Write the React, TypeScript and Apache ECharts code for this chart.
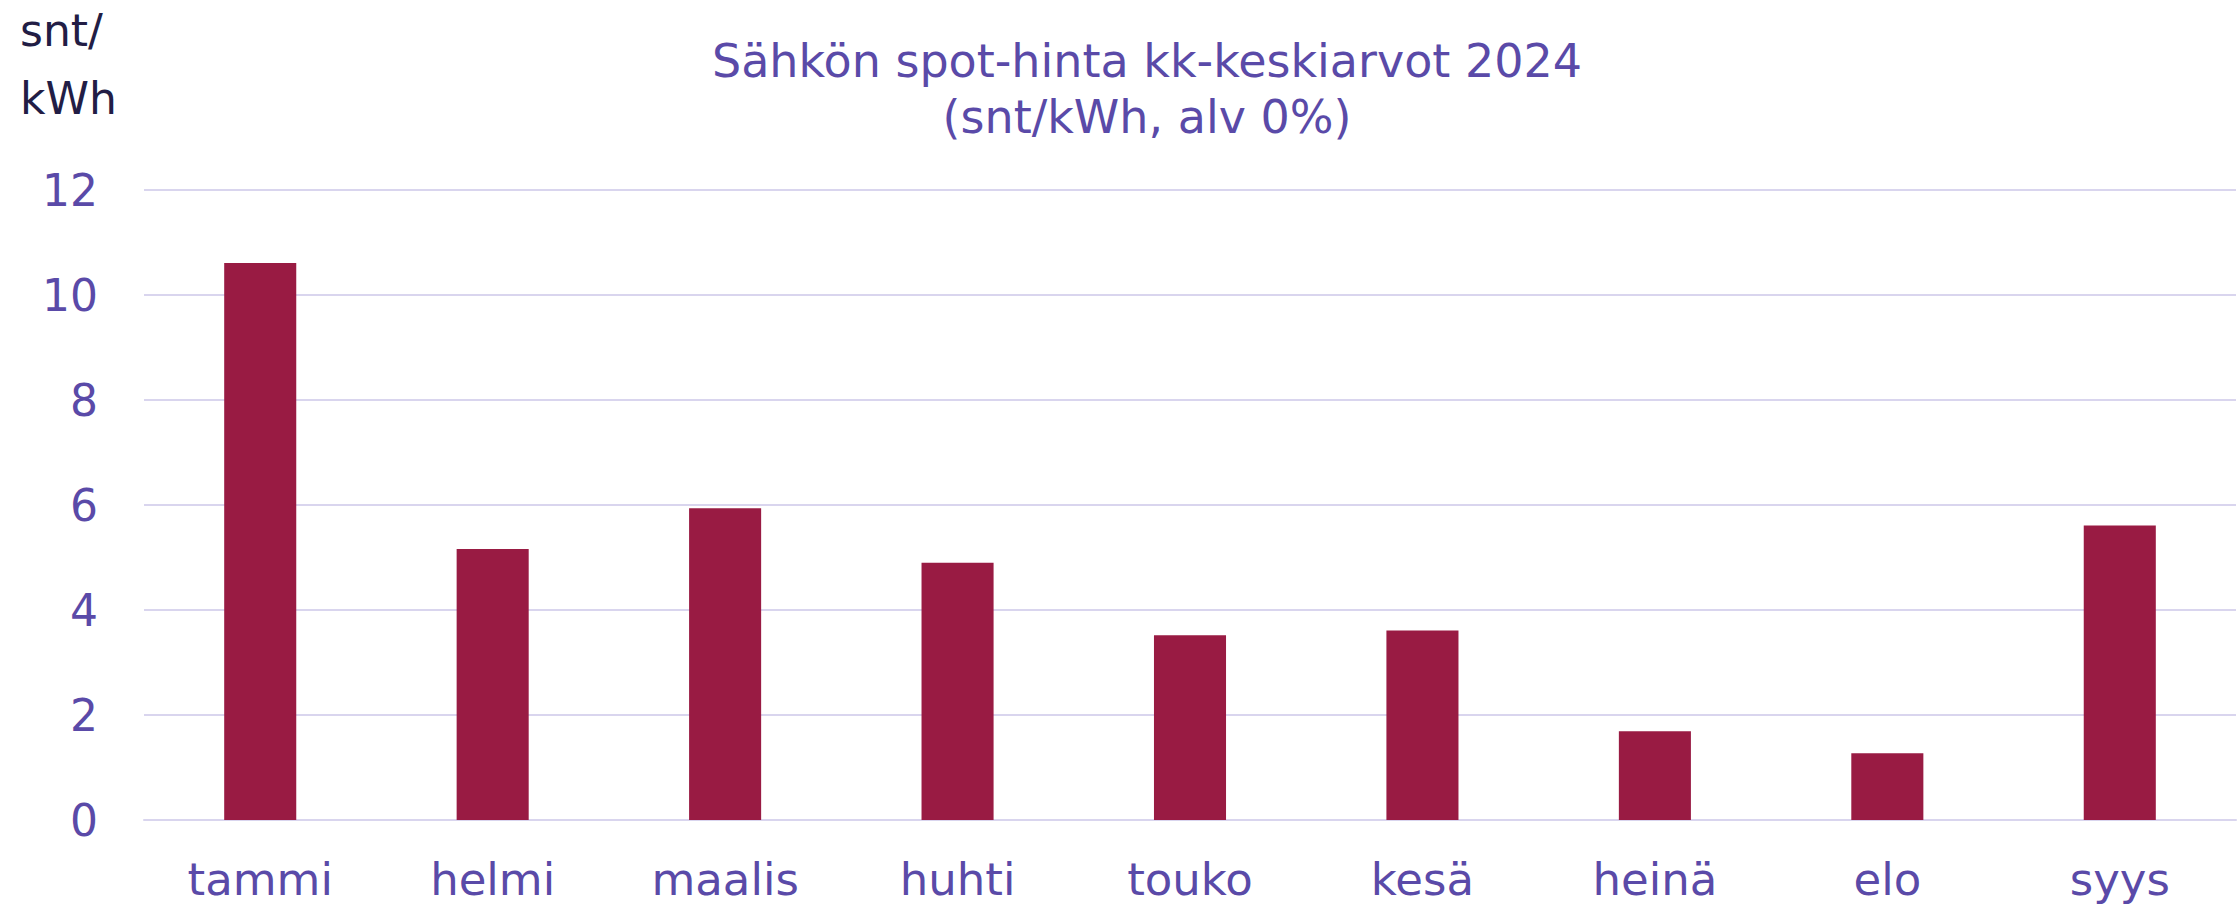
import React, { useEffect, useRef } from "react";
import * as echarts from "echarts";

const categories = ["tammi", "helmi", "maalis", "huhti", "touko", "kesä", "heinä", "elo", "syys"];
const values = [10.61, 5.16, 5.94, 4.9, 3.52, 3.61, 1.69, 1.27, 5.61];
const titleText = "Sähkön spot-hinta kk-keskiarvot 2024\n(snt/kWh, alv 0%)";
const unitText = "snt/\nkWh";

const FONT = "'DejaVu Sans', Verdana, sans-serif";
const PURPLE = "#5a4aa8";

export default function App() {
  const ref = useRef<HTMLDivElement>(null);
  useEffect(() => {
    document.body.style.margin = "0";
    const chart = echarts.init(ref.current!, null, { renderer: "svg" });
    chart.setOption({
      animation: false,
      backgroundColor: "#ffffff",
      title: {
        text: titleText,
        left: 1142,
        top: 28,
        textAlign: "center",
        textStyle: {
          fontFamily: FONT,
          fontSize: 46,
          fontWeight: "normal",
          color: PURPLE,
          lineHeight: 56,
        },
      },
      graphic: [
        {
          type: "text",
          left: 20,
          top: -4,
          style: {
            text: unitText,
            font: `44px ${FONT}`,
            lineHeight: 68,
            fill: "#221d45",
          },
        },
      ],
      grid: { left: 144, right: 4, top: 190, bottom: 84 },
      xAxis: {
        type: "category",
        data: categories,
        axisLine: { show: true, lineStyle: { color: "#d9d5ee", width: 2 } },
        axisTick: { show: false },
        axisLabel: {
          fontFamily: FONT,
          fontSize: 45,
          color: PURPLE,
          margin: 36,
          lineHeight: 46,
        },
      },
      yAxis: {
        type: "value",
        min: 0,
        max: 12,
        interval: 2,
        axisLine: { show: false },
        axisTick: { show: false },
        splitLine: { lineStyle: { color: "#d9d5ee", width: 2 } },
        axisLabel: {
          fontFamily: FONT,
          fontSize: 44,
          color: PURPLE,
          margin: 46,
        },
      },
      series: [
        {
          type: "bar",
          data: values,
          barWidth: "31%",
          itemStyle: { color: "#991b43" },
        },
      ],
    });
    return () => chart.dispose();
  }, []);
  return <div ref={ref} style={{ width: 2240, height: 904 }} />;
}
